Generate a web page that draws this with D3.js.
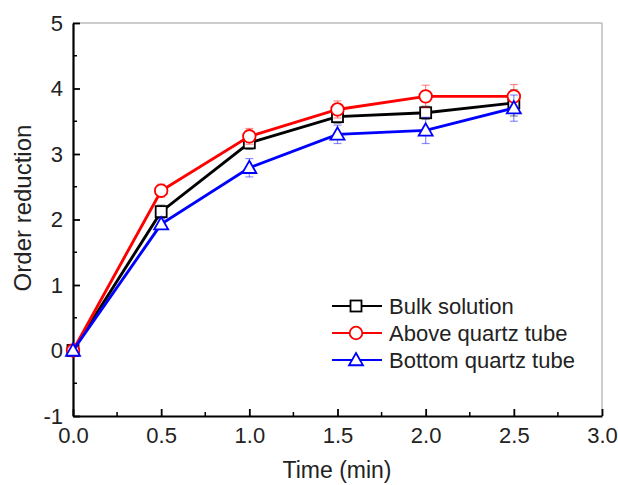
<!DOCTYPE html>
<html><head><meta charset="utf-8">
<script src="https://cdn.jsdelivr.net/npm/d3@7"></script>
<style>body{margin:0;background:#fff}svg{display:block}text{font-family:"Liberation Sans",Arial,sans-serif;fill:#222}</style>
</head><body>
<svg id="c" width="618" height="485"></svg>
<script>
const times = [0, 0.5, 1.0, 1.5, 2.0, 2.5];
const bulk = [0, 2.12, 3.17, 3.57, 3.63, 3.78];
const bulkErr = [0, 0.1, 0.1, 0.1, 0.1, 0.2];
const above = [0, 2.44, 3.27, 3.68, 3.88, 3.88];
const aboveErr = [0, 0.1, 0.12, 0.13, 0.17, 0.18];
const bottom = [0, 1.93, 2.79, 3.30, 3.36, 3.70];
const bottomErr = [0, 0.08, 0.14, 0.14, 0.2, 0.2];
const seriesNames = ["Bulk solution", "Above quartz tube", "Bottom quartz tube"];
const xTicks = [0, 0.5, 1.0, 1.5, 2.0, 2.5, 3.0];
const yTicks = [-1, 0, 1, 2, 3, 4, 5];

const series = [
  {name: seriesNames[0], vals: bulk, err: bulkErr, color: "#000000", marker: "square"},
  {name: seriesNames[1], vals: above, err: aboveErr, color: "#ff0000", marker: "circle"},
  {name: seriesNames[2], vals: bottom, err: bottomErr, color: "#0000ff", marker: "triangle"}
];

const svg = d3.select("#c");
const L = 73, R = 602, T = 23, B = 416;
const x = d3.scaleLinear().domain([0, 3]).range([L, R]);
const y = d3.scaleLinear().domain([-1, 5]).range([B, T]);

// frame top/right
svg.append("line").attr("x1", L).attr("x2", R).attr("y1", T).attr("y2", T).attr("stroke", "#bbb").attr("stroke-width", 1.5);
svg.append("line").attr("x1", R).attr("x2", R).attr("y1", T).attr("y2", B).attr("stroke", "#bbb").attr("stroke-width", 1.5);

// minor ticks
const xMinor = d3.range(0.25, 3, 0.5);
svg.append("g").selectAll("line").data(xMinor).join("line")
  .attr("x1", d => x(d)).attr("x2", d => x(d)).attr("y1", B).attr("y2", B - 4)
  .attr("stroke", "#000").attr("stroke-width", 1.5);
const yMinor = d3.range(-0.5, 5, 1);
svg.append("g").selectAll("line").data(yMinor).join("line")
  .attr("x1", L).attr("x2", L + 4).attr("y1", d => y(d)).attr("y2", d => y(d))
  .attr("stroke", "#000").attr("stroke-width", 1.5);

// axes
const xAxis = svg.append("g").attr("transform", `translate(0,${B})`)
  .call(d3.axisBottom(x).tickValues(xTicks).tickFormat(d3.format(".1f")).tickSizeInner(-7).tickSizeOuter(0).tickPadding(11));
const yAxis = svg.append("g").attr("transform", `translate(${L},0)`)
  .call(d3.axisLeft(y).tickValues(yTicks).tickFormat(d => d).tickSizeInner(-7).tickSizeOuter(0).tickPadding(10));
[xAxis, yAxis].forEach(a => {
  a.select(".domain").attr("stroke", "#000").attr("stroke-width", 2.2);
  a.selectAll(".tick line").attr("stroke", "#000").attr("stroke-width", 1.8);
  a.selectAll(".tick text").attr("font-size", 22).attr("font-family", "Liberation Sans, Arial, sans-serif").attr("fill", "#222");
});

// titles
svg.append("text").attr("x", 337).attr("y", 478).attr("text-anchor", "middle").attr("font-size", 23).text("Time (min)");
svg.append("text").attr("transform", `translate(31,208) rotate(-90)`).attr("text-anchor", "middle").attr("font-size", 24).text("Order reduction");

function drawMarker(g, type, cx, cy, color) {
  if (type === "square") {
    g.append("rect").attr("x", cx - 5.5).attr("y", cy - 5.5).attr("width", 11).attr("height", 11)
      .attr("fill", "#fff").attr("stroke", color).attr("stroke-width", 1.8);
  } else if (type === "circle") {
    g.append("circle").attr("cx", cx).attr("cy", cy).attr("r", 6.3)
      .attr("fill", "#fff").attr("stroke", color).attr("stroke-width", 1.8);
  } else {
    const s = 7;
    g.append("path").attr("d", `M${cx},${cy - s}L${cx + s},${cy + s * 0.75}L${cx - s},${cy + s * 0.75}Z`)
      .attr("fill", "#fff").attr("stroke", color).attr("stroke-width", 1.8);
  }
}

const line = d3.line().x(d => x(d[0])).y(d => y(d[1]));
series.forEach(s => {
  const pts = times.map((t, i) => [t, s.vals[i], s.err[i]]);
  const g = svg.append("g");
  g.append("path").datum(pts).attr("d", line).attr("fill", "none").attr("stroke", s.color).attr("stroke-width", 2.9);
  pts.forEach(p => {
    if (p[2] <= 0) return;
    const eg = g.append("g").attr("stroke", s.color).attr("stroke-opacity", 0.45).attr("stroke-width", 1.2);
    eg.append("line").attr("x1", x(p[0])).attr("x2", x(p[0])).attr("y1", y(p[1] - p[2])).attr("y2", y(p[1] + p[2]));
    eg.append("line").attr("x1", x(p[0]) - 4).attr("x2", x(p[0]) + 4).attr("y1", y(p[1] + p[2])).attr("y2", y(p[1] + p[2]));
    eg.append("line").attr("x1", x(p[0]) - 4).attr("x2", x(p[0]) + 4).attr("y1", y(p[1] - p[2])).attr("y2", y(p[1] - p[2]));
  });
  pts.forEach(p => drawMarker(g, s.marker, x(p[0]), y(p[1]), s.color));
});

// legend
const legY = [306, 333, 360];
series.forEach((s, i) => {
  const g = svg.append("g");
  g.append("line").attr("x1", 332).attr("x2", 382).attr("y1", legY[i]).attr("y2", legY[i]).attr("stroke", s.color).attr("stroke-width", 2.2);
  drawMarker(g, s.marker, 356, legY[i], s.color);
  g.append("text").attr("x", 389).attr("y", legY[i] + 8).attr("font-size", 22).text(s.name);
});
</script>
</body></html>
